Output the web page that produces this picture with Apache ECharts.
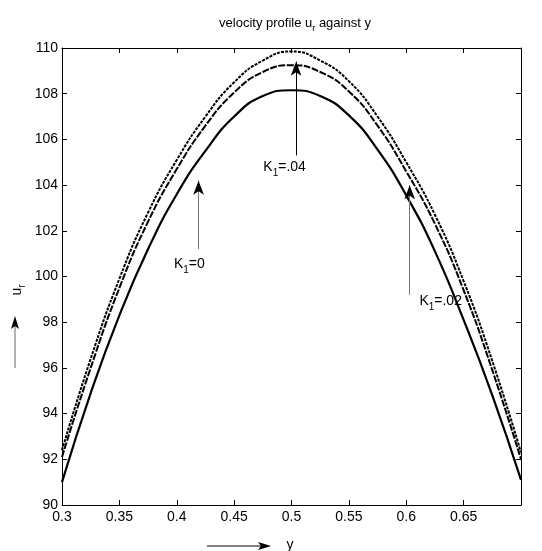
<!DOCTYPE html>
<html><head><meta charset="utf-8">
<script src="https://cdn.jsdelivr.net/npm/echarts@6/dist/echarts.min.js"></script>
<style>html,body{margin:0;padding:0;background:#fff}#c{width:542px;height:551px}</style>
</head><body><div id="c"></div>
<script>
// data
const yPos = [0.3, 0.325, 0.35, 0.375, 0.4, 0.425, 0.45, 0.475, 0.5, 0.525, 0.55, 0.575, 0.6, 0.625, 0.65, 0.675, 0.7];
const uK0  = [91.0, 94.9, 98.3, 101.2, 103.6, 105.5, 107.0, 107.9, 108.15, 107.9, 107.05, 105.55, 103.55, 101.1, 98.1, 94.8, 91.1];
const uK02 = [92.1, 96.0, 99.5, 102.4, 104.7, 106.6, 108.05, 108.95, 109.25, 108.95, 108.1, 106.6, 104.6, 102.3, 99.4, 95.9, 92.0];
const uK04 = [92.4, 96.4, 99.9, 102.8, 105.1, 107.0, 108.5, 109.45, 109.85, 109.45, 108.55, 107.0, 105.0, 102.7, 99.8, 96.3, 92.3];
const xMin = 0.3, xMax = 0.7, xStep = 0.05;
const yMin = 90, yMax = 110, yStep = 2;
// annotations: arrow [x, yTail, yTip], label [x, y]
const arrK0  = [0.419, 101.2, 104.5], labK0  = [0.411, 100.55];
const arrK02 = [0.603, 99.2, 104.3],  labK02 = [0.630, 98.9];
const arrK04 = [0.504, 105.3, 109.7], labK04 = [0.494, 104.8];

const FONT = "'Liberation Sans',Arial,sans-serif";
const rich = {
  a: {fontFamily: FONT, fontSize: 14, color: '#000', lineHeight: 22, verticalAlign: 'middle'},
  s: {fontFamily: FONT, fontSize: 10, color: '#000', lineHeight: 22, verticalAlign: 'bottom'}
};
function pairs(xs, ys){ return xs.map((x,i)=>[x, ys[i]]); }
function shaft(a, color){
  return {
    silent: true, symbol: ['none','none'],
    lineStyle: {color: color, width: 1, type: 'solid'},
    label: {show: false},
    data: [[{coord: [a[0], a[1]]}, {coord: [a[0], a[2] - 0.3]}]]
  };
}
function headAndLabel(a, lab, txt){
  return {
    silent: true,
    data: [
      {coord: [a[0], a[2]], symbol: 'arrow', symbolSize: [8, 14], symbolOffset: [0, 7],
        itemStyle: {color: '#000'}, label: {show: false}},
      {coord: lab, symbol: 'circle', symbolSize: 1, itemStyle: {color: 'rgba(0,0,0,0)'},
        label: {show: true, position: 'inside', formatter: txt, rich: rich}}
    ]
  };
}
const chart = echarts.init(document.getElementById('c'), null, {renderer: 'canvas'});
const axisCommon = {
  axisLine: {show: true, onZero: false, lineStyle: {color: '#000', width: 1}},
  axisTick: {show: true, inside: true, length: 5, lineStyle: {color: '#000'}},
  splitLine: {show: false}
};
chart.setOption({
  animation: false,
  backgroundColor: '#fff',
  title: {
    text: '{a|velocity profile u}{s|r}{a| against y}',
    left: 290, top: 8, textAlign: 'center',
    textStyle: {fontWeight: 'normal', rich: {
      a: {fontFamily: FONT, fontSize: 13, fontWeight: 'normal', color: '#000', lineHeight: 20, verticalAlign: 'middle'},
      s: {fontFamily: FONT, fontSize: 9, fontWeight: 'normal', color: '#000', lineHeight: 20, verticalAlign: 'bottom'}
    }}
  },
  grid: {left: 62, right: 21, top: 48, bottom: 46},
  xAxis: [
    Object.assign({type: 'value', min: xMin, max: xMax, interval: xStep, position: 'bottom',
      axisLabel: {show: true, showMaxLabel: false, fontFamily: FONT, fontSize: 14, color: '#000', margin: 5}}, axisCommon),
    Object.assign({type: 'value', min: xMin, max: xMax, interval: xStep, position: 'top',
      axisLabel: {show: false}}, axisCommon)
  ],
  yAxis: [
    Object.assign({type: 'value', min: yMin, max: yMax, interval: yStep, position: 'left',
      axisLabel: {show: true, fontFamily: FONT, fontSize: 14, color: '#000', margin: 4}}, axisCommon),
    Object.assign({type: 'value', min: yMin, max: yMax, interval: yStep, position: 'right',
      axisLabel: {show: false}}, axisCommon)
  ],
  series: [
    {type: 'line', name: 'K1=0', data: pairs(yPos, uK0), smooth: true, showSymbol: false,
      lineStyle: {color: '#000', width: 2.2, type: 'solid'},
      markLine: shaft(arrK0, '#777'), markPoint: headAndLabel(arrK0, labK0, '{a|K}{s|1}{a|=0}')},
    {type: 'line', name: 'K1=.02', data: pairs(yPos, uK02), smooth: true, showSymbol: false,
      lineStyle: {color: '#000', width: 2, type: [7, 1.5]},
      markLine: shaft(arrK02, '#777'), markPoint: headAndLabel(arrK02, labK02, '{a|K}{s|1}{a|=.02}')},
    {type: 'line', name: 'K1=.04', data: pairs(yPos, uK04), smooth: true, showSymbol: false,
      lineStyle: {color: '#000', width: 2, type: [3, 1.2]},
      markLine: shaft(arrK04, '#000'), markPoint: headAndLabel(arrK04, labK04, '{a|K}{s|1}{a|=.04}')}
  ],
  graphic: [
    {type: 'text', x: 17, y: 290, rotation: Math.PI/2,
      style: {text: '{a|u}{s|r}', rich: {
        a: {fontFamily: FONT, fontSize: 14, color: '#000', lineHeight: 20, verticalAlign: 'middle'},
        s: {fontFamily: FONT, fontSize: 10, color: '#000', lineHeight: 20, verticalAlign: 'bottom'}},
        align: 'center', verticalAlign: 'middle'}},
    {type: 'line', shape: {x1: 15, y1: 368, x2: 15, y2: 324}, style: {stroke: '#666', lineWidth: 1}},
    {type: 'polygon', shape: {points: [[15, 316], [11, 329], [15, 326], [19, 329]]}, style: {fill: '#000'}},
    {type: 'line', shape: {x1: 207, y1: 546, x2: 262, y2: 546}, style: {stroke: '#000', lineWidth: 1}},
    {type: 'polygon', shape: {points: [[271, 546], [258, 542], [261, 546], [258, 550]]}, style: {fill: '#000'}},
    {type: 'text', x: 290, y: 545, style: {text: 'y', fontFamily: FONT, fontSize: 14, fill: '#000', align: 'center', verticalAlign: 'middle'}}
  ]
});
</script></body></html>
